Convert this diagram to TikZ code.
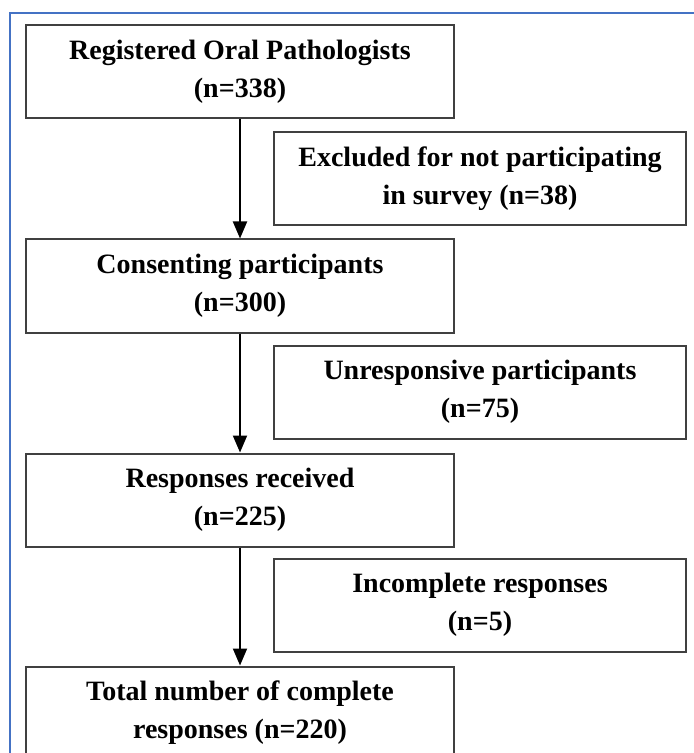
\documentclass[tikz,border=0pt]{standalone}
\usepackage{fontspec}
\setmainfont{Liberation Serif}
\usepackage{tikz}
\usetikzlibrary{arrows.meta,positioning}

\begin{document}
\begin{tikzpicture}[
    x=0.5pt, y=-0.5pt,
    % 主流程节点样式
    main box/.style={
        rectangle,               % 方形节点
        draw=black!75,           % 深灰边框
        line width=1pt,
        fill=white,
        minimum width=214pt,     % 宽度
        minimum height=46.5pt,   % 高度
        inner sep=2pt,
        align=center,
        font=\fontsize{14}{19}\selectfont\bfseries
    },
    % 排除节点样式
    side box/.style={
        main box,
        minimum width=206pt
    },
    % 箭头样式
    flow arrow/.style={
        draw,
        line width=1pt,
        -{Triangle[width=7pt,length=8.5pt]}
    }
]

% 图片边界
\useasboundingbox (0,0) rectangle (693,753);
% 外框 (蓝色)
\draw[color={rgb,255:red,68;green,114;blue,196}, line width=0.8pt]
    (700,13) -- (10,13) -- (10,760);

% 主流程节点
\node[main box] (registered) at (240,72) {Registered Oral Pathologists\\(n=338)};
\node[main box] (consenting) at (240,286) {Consenting participants\\(n=300)};
\node[main box] (received)   at (240,500) {Responses received\\(n=225)};
\node[main box] (total)      at (240,713) {Total number of complete\\responses (n=220)};

% 排除节点
\node[side box] (excluded)     at (480,179) {Excluded for not participating\\in survey (n=38)};
\node[side box] (unresponsive) at (480,392) {Unresponsive participants\\(n=75)};
\node[side box] (incomplete)   at (480,605) {Incomplete responses\\(n=5)};

% 箭头
\draw[flow arrow] (registered) -- (consenting);
\draw[flow arrow] (consenting) -- (received);
\draw[flow arrow] (received) -- (total);

\end{tikzpicture}
\end{document}
